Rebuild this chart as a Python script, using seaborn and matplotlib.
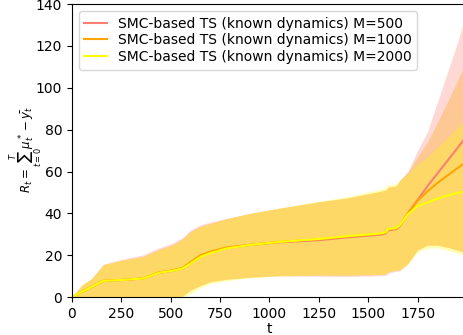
import matplotlib
matplotlib.use('Agg')
import matplotlib.pyplot as plt
import pandas as pd
import seaborn as sns

# time knots
t = [0, 50, 100, 160, 250, 360, 440, 510, 560, 600, 650, 700, 780, 900, 1050,
     1250, 1400, 1560, 1590, 1600, 1640, 1660, 1700, 1750, 1800, 1850, 1900, 1950, 1999]

labels = ['SMC-based TS (known dynamics) M=500',
          'SMC-based TS (known dynamics) M=1000',
          'SMC-based TS (known dynamics) M=2000']
colors = ['salmon', 'orange', 'yellow']

# mean regret
mean_500 = [0, 2.5, 4.9, 7.8, 8.2, 8.9, 11.6, 12.6, 13.7, 16.2, 19.5, 21.3, 23.4, 24.9, 26.2,
            27.2, 28.6, 29.8, 30.4, 31.9, 32.4, 33.8, 40, 46.5, 53, 59, 65, 71, 77]
mean_1000 = [0, 2.5, 4.9, 7.8, 8.2, 8.9, 11.8, 12.8, 14, 16.7, 20, 21.7, 23.7, 25, 26.4,
             27.6, 29, 30.2, 30.8, 32.3, 32.8, 34.1, 39.8, 46, 50.5, 54.5, 58, 61.5, 64.8]
mean_2000 = [0, 2.5, 4.9, 7.8, 8.2, 8.9, 11.6, 12.6, 13.7, 16, 19.2, 21, 23.2, 24.9, 26.4,
             27.8, 29.2, 30.4, 31, 32.5, 33, 34.3, 39.5, 43.5, 45.2, 47, 48.5, 49.7, 50.6]

# upper bounds of the bands
upper_500 = [0, 5.7, 8.9, 15.8, 18, 20.2, 23.5, 25.8, 28.5, 32, 34.5, 35.8, 37.6, 40, 42.5,
             45.5, 47.5, 50.5, 51.2, 52.6, 53, 55.8, 60, 70, 79, 93, 107, 121, 136]
upper_1000 = [0, 5.7, 8.9, 15.5, 17.6, 19.4, 22.8, 25, 27.8, 31.3, 33.8, 35.2, 37.3, 40, 42.5,
              45.5, 47.5, 50.5, 51.2, 52.6, 53, 55.8, 59.5, 67, 74, 83.5, 93, 103, 113]
upper_2000 = [0, 5.7, 8.9, 15.5, 17.6, 19.2, 22.5, 24.8, 27.5, 31, 33.5, 35, 37.2, 40, 42.5,
              45.8, 48, 51.5, 52.2, 53.6, 54, 55.8, 59, 63.5, 67, 71.5, 76, 81, 86]

# lower bounds of the bands
lower_500 = [0, 0, 0, 0, 0, 0, 0, 0, 0.5, 3.3, 5.5, 7.3, 8.5, 9.5, 10.1,
             10, 9.9, 10.2, 10.4, 11.4, 12.3, 12.5, 16, 22.5, 24.8, 24.8, 23.8, 22.5, 21]
lower_1000 = [0, 0, 0, 0, 0, 0, 0, 0, 0.5, 3.3, 5.5, 7.3, 8.5, 9.5, 10.3,
              10.5, 10.5, 10.8, 11, 12, 12.9, 13, 16, 22.5, 24.8, 24.8, 23.8, 22.5, 21]
lower_2000 = [0, 0, 0, 0, 0, 0, 0, 0, 0, 1.5, 4.5, 6.5, 7.8, 9.2, 10.2,
              10.5, 10.5, 10.8, 11, 12, 12.9, 13, 15.5, 21.5, 23.5, 23.5, 22.5, 21, 19.5]

means = [mean_500, mean_1000, mean_2000]
uppers = [upper_500, upper_1000, upper_2000]
lowers = [lower_500, lower_1000, lower_2000]

fig = plt.figure(figsize=(4.64, 3.35), dpi=100)
ax = fig.add_axes([0.155, 0.113, 0.851, 0.875])

# bands first
for lo, hi, c in zip(lowers, uppers, colors):
    ax.fill_between(t, lo, hi, color=c, alpha=0.3, linewidth=0)

# mean lines on top
for m, c, lab in zip(means, colors, labels):
    df = pd.DataFrame({'t': t, 'regret': m})
    sns.lineplot(data=df, x='t', y='regret', color=c, label=lab, ax=ax, linewidth=1.5)

ax.set_xlim(0, 1999)
ax.set_ylim(0, 140)
ax.set_xticks([0, 250, 500, 750, 1000, 1250, 1500, 1750])
ax.set_xlabel('t', labelpad=1)
ax.set_ylabel(r'$R_t=\sum_{t=0}^{T}\mu_t^*-\bar{y_t}$', fontsize=8.5)
ax.yaxis.set_label_coords(-0.068, 0.505)
ax.legend(loc='upper left', labelspacing=0.2, handlelength=1.6)

fig.savefig('out.png', dpi=100)
